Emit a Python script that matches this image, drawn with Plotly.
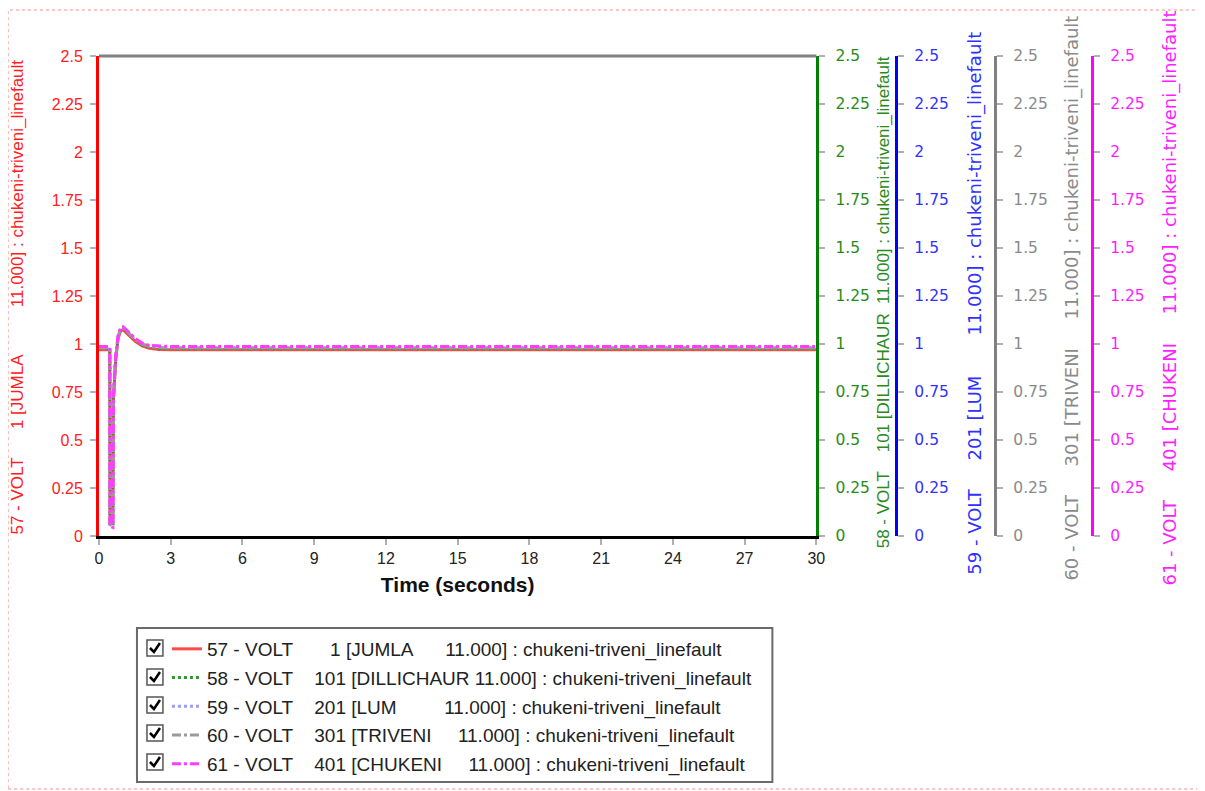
import plotly.graph_objects as go

# ---- data ----
time_s = [0, 0.45, 0.46, 0.58, 0.60, 0.62, 0.70, 0.80, 0.90, 1.00, 1.10, 1.30, 1.50, 1.80, 2.10, 2.50, 3.00, 3.50, 30]
v57 = [0.970, 0.970, 0.070, 0.065, 0.700, 0.750, 0.920, 1.030, 1.068, 1.075, 1.065, 1.040, 1.015, 0.990, 0.978, 0.972, 0.970, 0.970, 0.970]
v58 = [0.975, 0.975, 0.070, 0.065, 0.710, 0.760, 0.930, 1.035, 1.073, 1.080, 1.070, 1.045, 1.020, 0.995, 0.983, 0.977, 0.975, 0.975, 0.975]
v59 = [0.980, 0.980, 0.060, 0.055, 0.715, 0.765, 0.935, 1.040, 1.078, 1.085, 1.075, 1.050, 1.025, 1.000, 0.988, 0.982, 0.980, 0.980, 0.980]
v60 = [0.980, 0.980, 0.060, 0.055, 0.715, 0.765, 0.935, 1.040, 1.078, 1.085, 1.075, 1.050, 1.025, 1.000, 0.988, 0.982, 0.980, 0.980, 0.980]
v61 = [0.987, 0.987, 0.050, 0.045, 0.720, 0.770, 0.940, 1.045, 1.083, 1.090, 1.080, 1.055, 1.030, 1.005, 0.993, 0.989, 0.987, 0.987, 0.987]

NB = "\u00a0"


def label(a, gap1, b, gap2):
    return a + NB * gap1 + b + NB * gap2 + "11.000] : chukeni-triveni_linefault"


names = [
    label("57 - VOLT", 7, "1 [JUMLA", 6),
    label("58 - VOLT", 4, "101 [DILLICHAUR", 1),
    label("59 - VOLT", 4, "201 [LUM", 9),
    label("60 - VOLT", 4, "301 [TRIVENI", 5),
    label("61 - VOLT", 4, "401 [CHUKENI", 5),
]
axis_titles = [
    label("57 - VOLT", 6, "1 [JUMLA", 10),
    label("58 - VOLT", 4, "101 [DILLICHAUR", 2),
    label("59 - VOLT", 5, "201 [LUM", 7),
    label("60 - VOLT", 5, "301 [TRIVENI", 5),
    label("61 - VOLT", 5, "401 [CHUKENI", 5),
]
series = [v57, v58, v59, v60, v61]
line_colors = ["#ff4a4a", "#2e9a2e", "#9a9aff", "#9a9a9a", "#ff3cff"]
line_dashes = ["solid", "dot", "dot", "dashdot", "dashdot"]
axis_colors = ["#ff0000", "#008000", "#0000ff", "#808080", "#ff00ff"]
tick_colors = ["#ff2020", "#2a8a1a", "#3030ff", "#8a8a8a", "#ff20ff"]
y_tickvals = [0, 0.25, 0.5, 0.75, 1, 1.25, 1.5, 1.75, 2, 2.25, 2.5]
y_ticktext = ["0", "0.25", "0.5", "0.75", "1", "1.25", "1.5", "1.75", "2", "2.25", "2.5"]
x_tickvals = [0, 3, 6, 9, 12, 15, 18, 21, 24, 27, 30]

# ---- layout geometry (page pixels -> paper); the page body adds an 8px offset ----
OFF = 8
W, H = 1205 - OFF, 791 - OFF
ML, MR, MT = 99 - OFF, 0, 56 - OFF
MB = H - (536 - OFF)
PW, PH = W - ML - MR, H - MT - MB
PW_EFF = PW - 8  # measured effective paper width in the rendered page


def px(x):
    return (x - OFF - ML) / PW_EFF


def py(y):
    return (H - MB - (y - OFF)) / PH


fig = go.Figure()
yrefs = ["y", "y2", "y3", "y4", "y5"]
for i, (nm, vals) in enumerate(zip(names, series)):
    fig.add_trace(go.Scatter(
        x=time_s, y=vals, name=nm, mode="lines", yaxis=yrefs[i],
        legendgroup=f"g{i}",
        line=dict(color=line_colors[i], width=3, dash=line_dashes[i]),
    ))

right_font = "DejaVu Sans"
left_font = "Liberation Sans, Arial"


def yax(i, **kw):
    d = dict(
        range=[0, 2.5], tickvals=y_tickvals, ticktext=y_ticktext,
        showgrid=False, zeroline=False, showline=True, linewidth=3,
        linecolor=axis_colors[i], ticks="outside", ticklen=6, tickwidth=2,
        tickcolor="#b0b0b0",
        ticklabelstandoff=4 if i == 0 else 7,
        tickfont=dict(color=tick_colors[i], size=16 if i == 0 else 15.5,
                      family=left_font if i == 0 else right_font),
        fixedrange=True,
    )
    d.update(kw)
    return d


fig.update_layout(
    width=W, height=H,
    margin=dict(l=ML, r=MR, t=MT, b=MB, pad=0),
    plot_bgcolor="white", paper_bgcolor="white",
    showlegend=True,
    xaxis=dict(
        domain=[0, px(817)], range=[0, 30], tickvals=x_tickvals,
        showgrid=False, zeroline=False, showline=True, linewidth=3,
        linecolor="#000000", ticks="outside", ticklen=6, tickwidth=2,
        tickcolor="#b0b0b0",
        tickfont=dict(size=16, color="#222222", family=left_font),
        title=dict(text="<b>Time (seconds)</b>", standoff=12,
                   font=dict(size=21, color="#111111", family=left_font)),
    ),
    yaxis=yax(0, side="left"),
    yaxis2=yax(1, side="right", overlaying="y", anchor="x"),
    yaxis3=yax(2, side="right", overlaying="y", anchor="free", position=px(897)),
    yaxis4=yax(3, side="right", overlaying="y", anchor="free", position=px(996)),
    yaxis5=yax(4, side="right", overlaying="y", anchor="free", position=px(1093)),
    legend=dict(
        x=px(167), y=py(630), xanchor="left", yanchor="top",
        bgcolor="rgba(0,0,0,0)", borderwidth=0,
        font=dict(size=19, color="#222222", family=left_font),
        tracegroupgap=1, itemwidth=30,
    ),
)

# axis titles (rotated, anchored at their bottom like the reference)
title_x = [17, 884, 975, 1072, 1170]
title_bottom = [537, 550, 577, 583, 588]
title_fonts = [(left_font, 17), (left_font, 17), (right_font, 18), (right_font, 18), (right_font, 18)]
annotations = []
for i in range(5):
    annotations.append(dict(
        text=axis_titles[i], textangle=-90, showarrow=False,
        xref="paper", yref="paper", x=px(title_x[i]), y=py(title_bottom[i]),
        xanchor="center", yanchor="bottom",
        font=dict(family=title_fonts[i][0], size=title_fonts[i][1], color=tick_colors[i]),
    ))

shapes = []
# top frame line of the plot area
shapes.append(dict(type="line", xref="paper", yref="paper", x0=0, x1=px(817), y0=1, y1=1,
                   line=dict(color="#808080", width=3)))
# outer dashed border
shapes.append(dict(type="rect", xref="paper", yref="paper", x0=px(8), x1=px(1203), y0=py(789), y1=py(10),
                   line=dict(color="#ff8c8c", width=1, dash="dot"), layer="below"))
# legend box
shapes.append(dict(type="rect", xref="paper", yref="paper", x0=px(137), x1=px(773), y0=py(782), y1=py(628),
                   line=dict(color="#6a6a6a", width=2), fillcolor="rgba(0,0,0,0)"))
row_y = [648, 677, 705, 733, 762]
for ry in row_y:
    shapes.append(dict(type="rect", xref="paper", yref="paper", x0=px(147), x1=px(163), y0=py(ry + 8), y1=py(ry - 8),
                       line=dict(color="#555555", width=1.5), fillcolor="white"))
    path = (f"M {px(150)},{py(ry)} L {px(154)},{py(ry + 4)} L {px(160)},{py(ry - 5)}")
    shapes.append(dict(type="path", xref="paper", yref="paper", path=path,
                       line=dict(color="#000000", width=2.5)))
fig.update_layout(shapes=shapes, annotations=annotations)

fig.write_html("out.html")
